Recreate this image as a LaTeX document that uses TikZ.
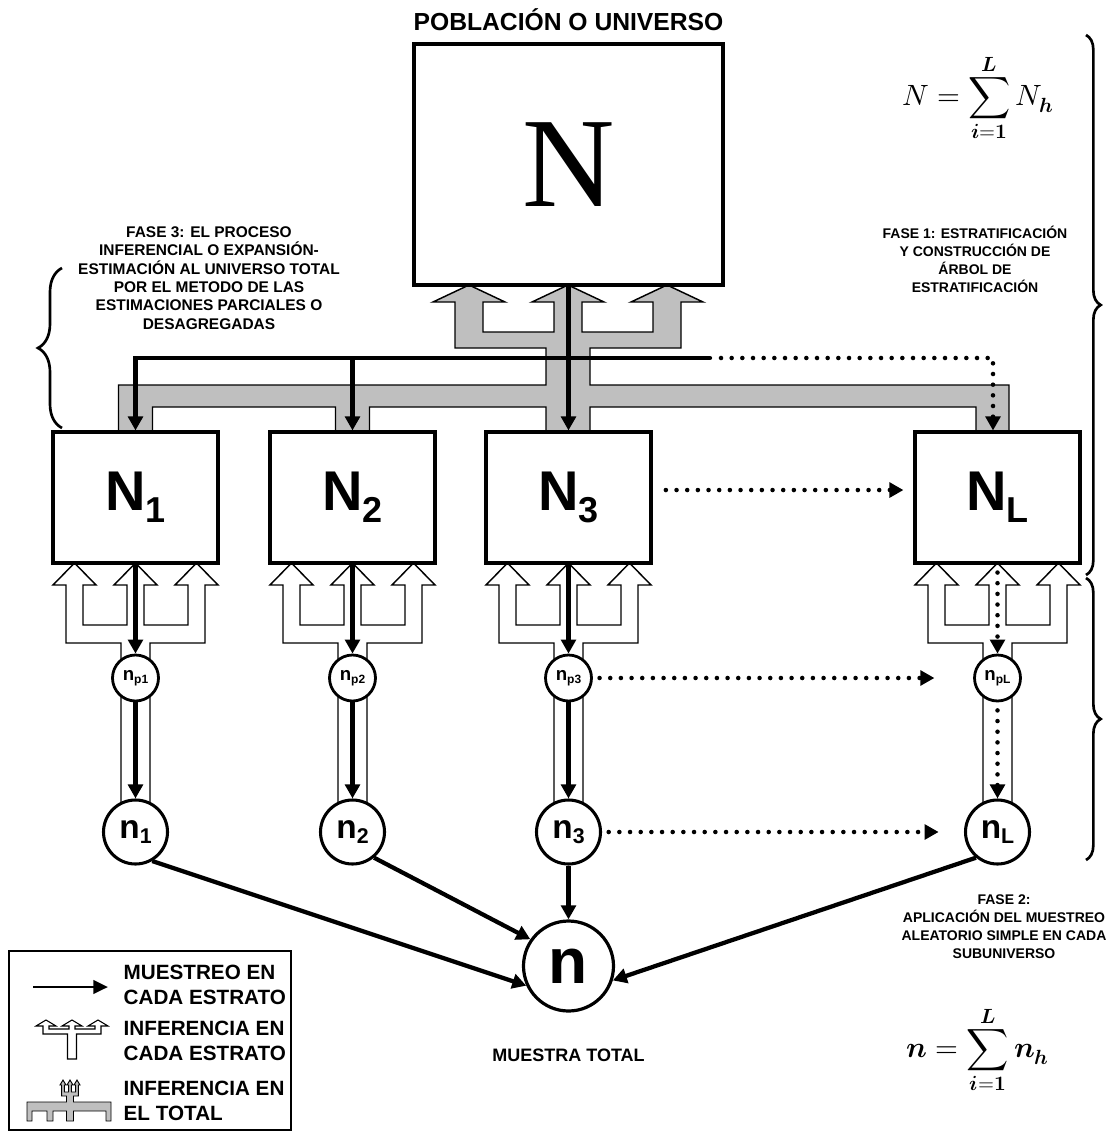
\documentclass[tikz,border=0pt]{standalone}
\usepackage{fontspec}
\usepackage{unicode-math}
\setmainfont{Liberation Sans}
\newfontfamily\serifN{Liberation Serif}
\usetikzlibrary{arrows.meta,decorations.pathreplacing,calc}
\tikzset{
 boxst/.style={draw, line width=2.3pt, fill=white, minimum width=123.75pt, minimum height=98.25pt, inner sep=0pt, font=\bfseries},
 bigc/.style={circle, draw, line width=2.3pt, fill=white, minimum size=48pt, inner sep=0pt, font=\bfseries},
 smc/.style={circle, draw, line width=2.1pt, fill=white, minimum size=34.5pt, inner sep=0pt, font=\bfseries},
 totc/.style={circle, draw, line width=2.4pt, fill=white, minimum size=67.5pt, inner sep=0pt, font=\bfseries},
 blk/.style={line width=3.2pt, ->},
 dotl/.style={line width=3.4pt, line cap=round, dash pattern=on 0pt off 8pt, ->},
 fase/.style={align=center, font=\bfseries\fontsize{10.5}{13.5}\selectfont},
 legt/.style={align=left, anchor=west, font=\bfseries\fontsize{15.5}{18.75}\selectfont},
 brc/.style={decorate, line width=2pt},
 grayshape/.style={fill=black!25, draw=black, line width=1.1pt},
 whiteshape/.style={fill=white, draw=black, line width=1.1pt},
}
\newcommand\wtri[1]{%
\draw[whiteshape]
 ({#1-61},563) -- ({#1-39.5},585) -- ({#1-52.5},585) -- ({#1-52.5},625) -- ({#1-8.5},625) -- ({#1-8.5},585) -- ({#1-21.5},585) -- (#1,563) -- ({#1+21.5},585) -- ({#1+8.5},585) -- ({#1+8.5},625) -- ({#1+52.5},625) -- ({#1+52.5},585) -- ({#1+39.5},585) -- ({#1+61},563) -- ({#1+82.5},585) -- ({#1+69.5},585) -- ({#1+69.5},643) -- ({#1+14.5},643) -- ({#1+14.5},805) -- ({#1-14.5},805) -- ({#1-14.5},643) -- ({#1-69.5},643) -- ({#1-69.5},585) -- ({#1-82.5},585) -- cycle;}
\begin{document}
\begin{tikzpicture}[x=0.75pt,y=-0.75pt,>={Triangle[length=10.5pt,width=11pt]}]
\useasboundingbox (0,0) rectangle (1116,1131);

% gray inference structure (total)
\draw[grayshape] (118.5,432) -- (118.5,385) -- (546,385) -- (546,348) -- (455,348) -- (455,302) -- (433,302) -- (469,285) -- (505,302) -- (483,302) -- (483,332) -- (554,332) -- (554,302) -- (532,302) -- (568,285) -- (604,302) -- (582,302) -- (582,332) -- (653,332) -- (653,302) -- (631,302) -- (667,285) -- (703,302) -- (681,302) -- (681,348) -- (590,348) -- (590,385) -- (1009,385) -- (1009,433) -- (976,433) -- (976,407) -- (590,407) -- (590,432) -- (546,432) -- (546,407) -- (369.5,407) -- (369.5,432) -- (335.5,432) -- (335.5,407) -- (152.5,407) -- (152.5,432) -- cycle;

% white inference structures (per stratum)
\wtri{135.5}
\wtri{352.5}
\wtri{568.5}
\wtri{997.5}

% boxes
\node[draw, line width=2.4pt, fill=white, minimum width=231.75pt, minimum height=180.75pt, inner sep=0pt] (N) at (568.5,164.5) {\serifN\fontsize{96}{96}\selectfont N};
\node[boxst] (N1) at (135.5,497.5) {\fontsize{42}{42}\selectfont N\raisebox{-9pt}{\fontsize{27}{27}\selectfont 1}};
\node[boxst] (N2) at (352.5,497.5) {\fontsize{42}{42}\selectfont N\raisebox{-9pt}{\fontsize{27}{27}\selectfont 2}};
\node[boxst] (N3) at (568.5,497.5) {\fontsize{42}{42}\selectfont N\raisebox{-9pt}{\fontsize{27}{27}\selectfont 3}};
\node[boxst] (NL) at (997.5,497.5) {\fontsize{42}{42}\selectfont N\raisebox{-9pt}{\fontsize{27}{27}\selectfont L}};

% circles
\node[smc] (np1) at (135.5,678) {\fontsize{14}{14}\selectfont n\raisebox{-2.5pt}{\fontsize{9}{9}\selectfont p1}};
\node[smc] (np2) at (352.5,678) {\fontsize{14}{14}\selectfont n\raisebox{-2.5pt}{\fontsize{9}{9}\selectfont p2}};
\node[smc] (np3) at (568.5,678) {\fontsize{14}{14}\selectfont n\raisebox{-2.5pt}{\fontsize{9}{9}\selectfont p3}};
\node[smc] (npL) at (997.5,678) {\fontsize{14}{14}\selectfont n\raisebox{-2.5pt}{\fontsize{9}{9}\selectfont pL}};
\node[bigc] (n1) at (135.5,832) {\fontsize{25}{25}\selectfont n\raisebox{-4pt}{\fontsize{16}{16}\selectfont 1}};
\node[bigc] (n2) at (352.5,832) {\fontsize{25}{25}\selectfont n\raisebox{-4pt}{\fontsize{16}{16}\selectfont 2}};
\node[bigc] (n3) at (568.5,832) {\fontsize{25}{25}\selectfont n\raisebox{-4pt}{\fontsize{16}{16}\selectfont 3}};
\node[bigc] (nL) at (997.5,832) {\fontsize{25}{25}\selectfont n\raisebox{-4pt}{\fontsize{16}{16}\selectfont L}};
\node[totc] (n) at (568.5,966) {\fontsize{48}{48}\selectfont n};

% sampling arrows from the top
\coordinate (hb) at (710,358);
\coordinate (hd) at (721,358);
\path (NL.north) ++(-4.5,0) coordinate (dl);
\draw[blk, line cap=round] (hb) -| (N1.north);
\draw[blk] (N2.north |- hb) -- (N2.north);
\draw[blk] (N.south) -- (N3.north);
\draw[dotl] (hd) -| (dl);

% sampling arrows per stratum
\draw[blk] (N1.south) -- (np1.north);
\draw[blk] (N2.south) -- (np2.north);
\draw[blk] (N3.south) -- (np3.north);
\draw[dotl] ([yshift=-6pt]NL.south) -- (npL.north);
\draw[blk] (np1.south) -- (n1.north);
\draw[blk] (np2.south) -- (n2.north);
\draw[blk] (np3.south) -- (n3.north);
\draw[dotl] ([yshift=-6pt]npL.south) -- (nL.north);

% horizontal dotted arrows
\draw[dotl] ([xshift=10pt,yshift=5.6pt]N3.east) -- ([xshift=-7.5pt,yshift=5.6pt]NL.west);
\draw[dotl] ([xshift=5pt]np3.east) -- ([xshift=-29pt]npL.west);
\draw[dotl] ([xshift=5pt]n3.east) -- ([xshift=-19pt]nL.west);

% to total sample
\draw[blk] (n1.-60) -- (n.205);
\draw[blk] (n2.-50) -- (n.145);
\draw[blk] (n3.south) -- (n.north);
\draw[blk] (nL.-130) -- (n.-18);

% braces
\draw[brc, decoration={brace, amplitude=11pt}] (1086,35) -- (1086,575);
\draw[brc, decoration={brace, amplitude=11pt}] (1086,578) -- (1086,860);
\draw[brc, decoration={brace, amplitude=18pt}] (62,428) -- (62,268);

% texts
\node[font=\bfseries\fontsize{18.5}{20}\selectfont] (title) at (568.5,20) {POBLACIÓN O UNIVERSO};
\node[align=center, font=\bfseries\fontsize{11.6}{13.8}\selectfont] (f3) at (209,278) {FASE 3: EL PROCESO\\INFERENCIAL O EXPANSIÓN-\\ESTIMACIÓN AL UNIVERSO TOTAL\\POR EL METODO DE LAS\\ESTIMACIONES PARCIALES O\\DESAGREGADAS};
\node[fase] (f1) at (975,259) {FASE 1: ESTRATIFICACIÓN\\Y CONSTRUCCIÓN DE\\ÁRBOL DE\\ESTRATIFICACIÓN};
\node[fase] (f2) at (1004,927) {FASE 2:\\APLICACIÓN DEL MUESTREO\\ALEATORIO SIMPLE EN CADA\\SUBUNIVERSO};
\node[font=\bfseries\fontsize{13.5}{15}\selectfont] (mt) at (568.5,1055) {MUESTRA TOTAL};
\node (fN) at (978,98) {\fontsize{22}{22}\selectfont$\displaystyle N=\sum_{\symbfit{i}\symbf{=1}}^{\symbfit{L}}N_{\symbfit{h}}$};
\node (fn) at (978,1050) {\fontsize{22}{22}\selectfont$\displaystyle \symbfit{n}=\sum_{\symbfit{i}\symbf{=1}}^{\symbfit{L}}\symbfit{n}_{\symbfit{h}}$};

% legend
\node[draw, line width=1.6pt, minimum width=211.5pt, minimum height=134.5pt, anchor=north west, inner sep=0pt] (legend) at (8,950) {};
\coordinate (la) at (33,987);
\coordinate (lb) at (108,987);
\draw[line width=2.2pt, -{Triangle[length=11pt,width=10pt]}] (la) -- (lb);
\draw[fill=white, draw=black, line width=0.8pt] (46,1020) -- (56,1026) -- (49,1026) -- (49,1029) -- (69,1029) -- (69,1026) -- (62,1026) -- (72,1020) -- (82,1026) -- (75,1026) -- (75,1029) -- (95,1029) -- (95,1026) -- (88,1026) -- (98,1020) -- (108,1026) -- (101,1026) -- (101,1034) -- (76.5,1034) -- (76.5,1059) -- (67.5,1059) -- (67.5,1034) -- (43,1034) -- (43,1026) -- (36,1026) -- cycle;
\draw[fill=black!25, draw=black, line width=0.7pt] (27,1121) -- (27,1102) -- (66.5,1102) -- (66.5,1096) -- (61.7,1096) -- (61.7,1085) -- (60,1085) -- (63,1080) -- (66,1085) -- (64.3,1085) -- (64.3,1092) -- (68.7,1092) -- (68.7,1085) -- (67,1085) -- (70,1080) -- (73,1085) -- (71.3,1085) -- (71.3,1092) -- (75.7,1092) -- (75.7,1085) -- (74,1085) -- (77,1080) -- (80,1085) -- (78.3,1085) -- (78.3,1096) -- (73.5,1096) -- (73.5,1102) -- (111,1102) -- (111,1121) -- (106,1121) -- (106,1111) -- (73.5,1111) -- (73.5,1121) -- (66.5,1121) -- (66.5,1111) -- (53,1111) -- (53,1121) -- (47,1121) -- (47,1111) -- (32,1111) -- (32,1121) -- cycle;
\node[legt] (l1) at (119,984.5) {MUESTREO EN\\CADA ESTRATO};
\node[legt] (l2) at (119,1040.5) {INFERENCIA EN\\CADA ESTRATO};
\node[legt] (l3) at (119,1100.5) {INFERENCIA EN\\EL TOTAL};
\end{tikzpicture}
\end{document}
